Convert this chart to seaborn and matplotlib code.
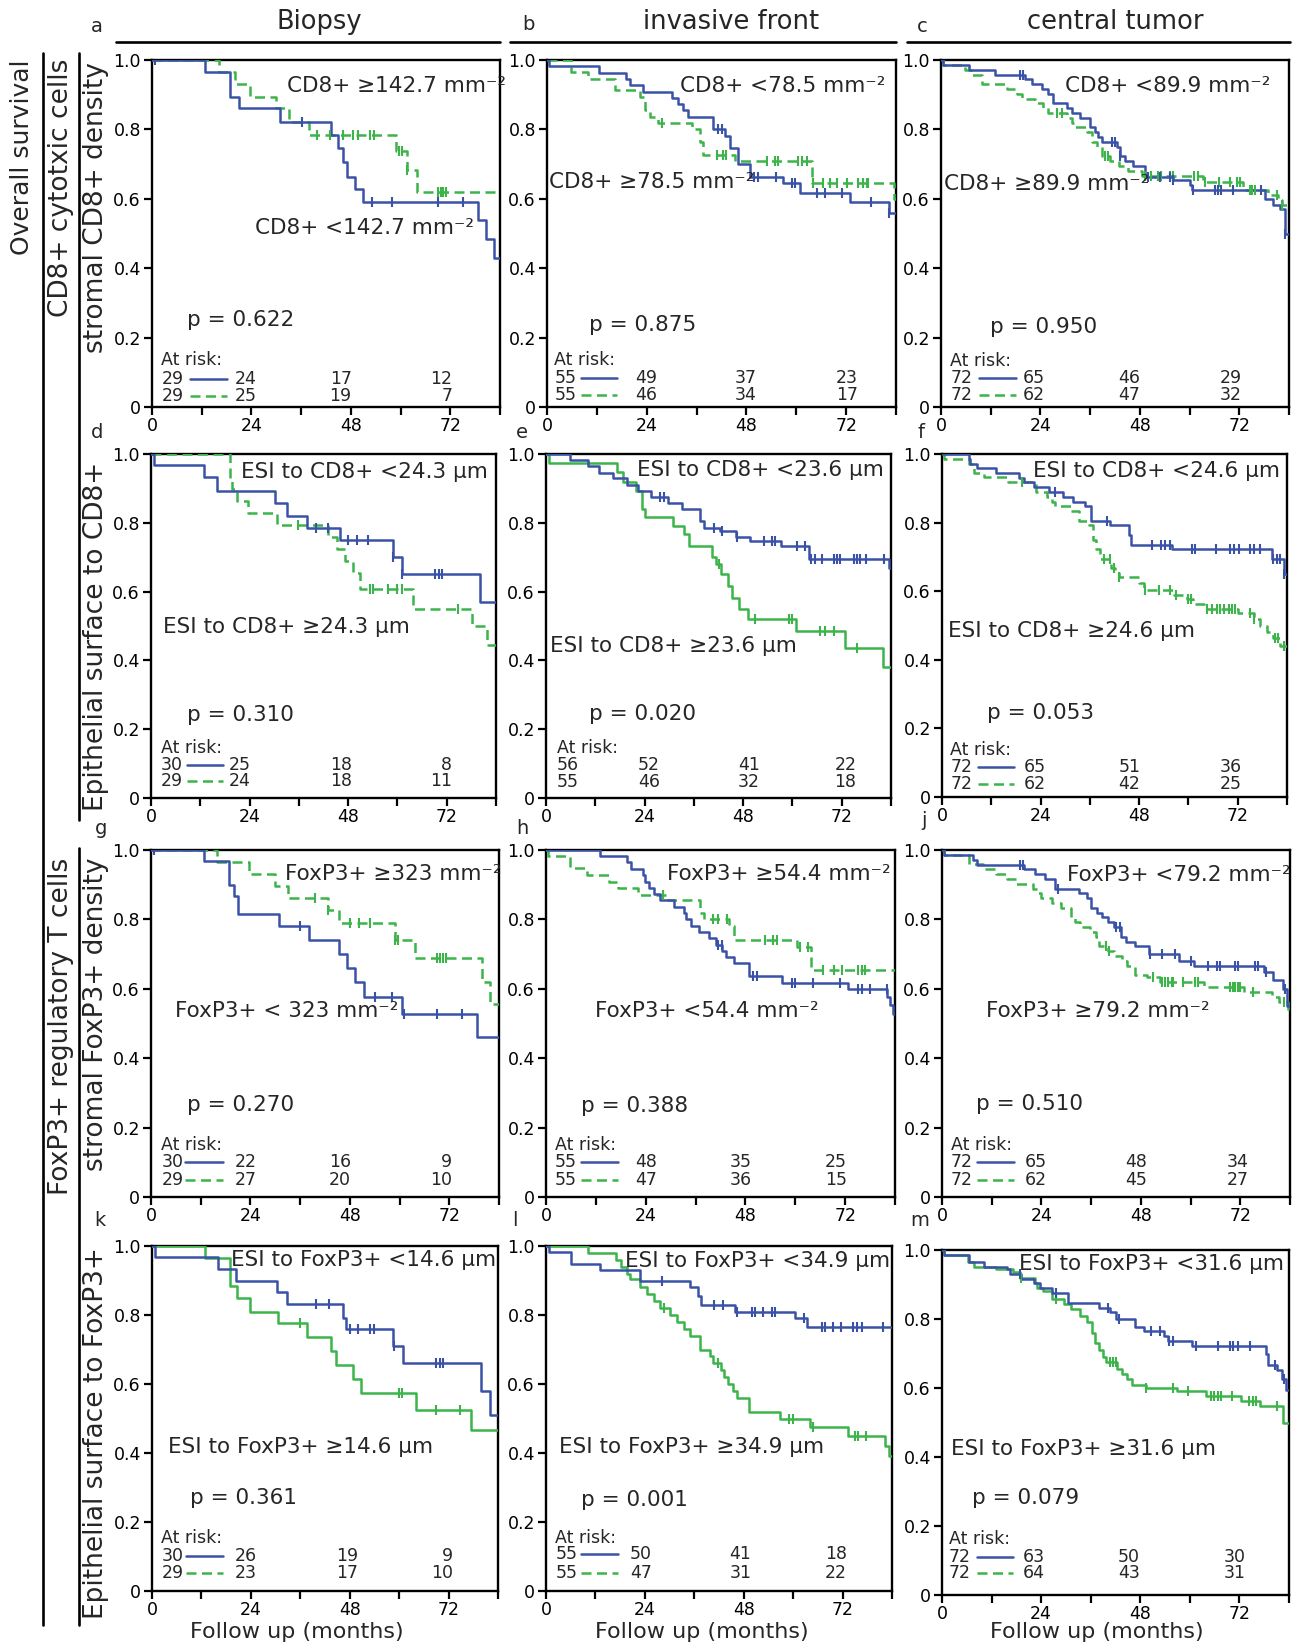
import numpy as np
import pandas as pd
import matplotlib
matplotlib.use("Agg")
import matplotlib.pyplot as plt
from matplotlib.lines import Line2D
import seaborn as sns

sns.set_theme(style="ticks")
plt.rcParams['font.family'] = ['DejaVu Sans']
plt.rcParams['mathtext.fontset'] = 'dejavusans'

BLUE = "#3a52a6"
GREEN = "#3cb44a"
W, H = 1297, 1647
END = 84

# ---------------- data: step times (months), survival after step, censor times ----------------
A_B_T = [12.9, 18.9, 20.9, 30.9, 43.1, 44.9, 46.0, 47.0, 49.0, 51.0, 78.6, 80.6, 82.6]
A_B_S = [0.966, 0.894, 0.861, 0.822, 0.784, 0.745, 0.707, 0.663, 0.627, 0.591, 0.538, 0.484, 0.428]
A_B_C = [0.8, 36.2, 53, 58, 69, 75]
A_G_T = [16.1, 20.1, 23.7, 30.0, 33.0, 37.8, 59.0, 61.5, 63.9]
A_G_S = [0.966, 0.930, 0.894, 0.861, 0.822, 0.784, 0.737, 0.683, 0.620]
A_G_C = [39.8, 43, 46.2, 48.6, 49.8, 52.7, 53.5, 59.5, 60.3, 61.5, 69, 69.8, 70.3, 71]

B_B_T = [0.6, 12.6, 19.0, 19.9, 23.1, 30.2, 31.5, 32.7, 33.9, 40.0, 42.8, 44.0, 46.0, 48.8, 56.9, 60.9, 73.0, 82.3]
B_B_S = [0.982, 0.963, 0.945, 0.927, 0.909, 0.891, 0.873, 0.855, 0.836, 0.800, 0.782, 0.745, 0.700, 0.664, 0.645, 0.618, 0.591, 0.560]
B_B_C = [41.2, 42.0, 49.9, 50.7, 55.0, 58.9, 59.7, 64.9, 66.9, 71.0, 78.0, 82.3]
B_G_T = [5.8, 9.9, 16.3, 22.3, 23.5, 24.8, 26.6, 34.8, 36.8, 37.6, 45.2, 63.7, 83.5]
B_G_S = [0.964, 0.945, 0.914, 0.894, 0.855, 0.836, 0.818, 0.800, 0.764, 0.727, 0.709, 0.645, 0.600]
B_G_C = [27.7, 40.8, 42.4, 43.2, 52.9, 54.9, 55.7, 60.5, 61.3, 62.5, 64.1, 66.5, 68.1, 69.7, 72.2, 74.9, 76.1, 76.9, 77.3]

C_B_T = [0.6, 6.7, 13.1, 20.3, 21.9, 24.3, 25.9, 27.1, 30.4, 31.6, 33.6, 36.0, 37.2, 38.0, 38.8, 42.4, 43.2, 44.4, 46.4, 49.2, 56.0, 60.0, 60.5, 78.1, 80.2, 81.8, 83.0]
C_B_S = [0.986, 0.972, 0.958, 0.944, 0.930, 0.917, 0.903, 0.875, 0.861, 0.847, 0.833, 0.806, 0.792, 0.778, 0.764, 0.750, 0.722, 0.708, 0.694, 0.664, 0.653, 0.639, 0.625, 0.600, 0.583, 0.570, 0.500]
C_B_C = [19.1, 19.9, 41.2, 42.0, 43.2, 50.0, 52.9, 55.2, 56.0, 60.9, 66.1, 66.9, 67.7, 70.5, 77.3, 83.0]
C_G_T = [0.6, 5.9, 7.5, 10.0, 15.9, 18.3, 19.5, 22.7, 24.7, 25.9, 30.4, 31.6, 32.4, 35.2, 36.4, 37.6, 38.8, 40.8, 43.0, 45.2, 48.5, 63.3, 72.9, 79.0, 81.4, 82.2]
C_G_S = [0.986, 0.972, 0.958, 0.930, 0.917, 0.903, 0.889, 0.875, 0.861, 0.847, 0.833, 0.819, 0.806, 0.792, 0.764, 0.750, 0.722, 0.708, 0.694, 0.681, 0.667, 0.647, 0.625, 0.611, 0.597, 0.583]
C_G_C = [27.9, 29.2, 39.6, 40.4, 49.2, 50.8, 52.4, 53.2, 55.2, 56.0, 61.0, 62.0, 63.7, 67.0, 69.8, 71.4, 72.2, 74.5, 75.0, 75.8, 81.0, 82.2]

D_B_T = [0.8, 12.9, 16.0, 30.2, 33.0, 38.1, 46.0, 59.0, 61.0, 80.1]
D_B_S = [0.967, 0.933, 0.893, 0.857, 0.821, 0.786, 0.750, 0.700, 0.650, 0.570]
D_B_C = [40.2, 43.0, 48.0, 50.1, 52.9, 59.0, 61.0, 69.2, 70.0, 70.8]
D_G_T = [19.2, 19.8, 20.9, 23.7, 30.6, 43.2, 45.2, 47.2, 49.3, 50.9, 63.9, 78.1, 81.7]
D_G_S = [0.931, 0.897, 0.862, 0.828, 0.793, 0.759, 0.724, 0.690, 0.655, 0.607, 0.550, 0.500, 0.446]
D_G_C = [35.9, 53.3, 54.1, 57.8, 59.8, 61.0, 74.8]

E_B_T = [5.9, 10.3, 13.0, 16.2, 19.6, 22.5, 25.5, 29.7, 33.0, 37.4, 38.5, 42.3, 46.2, 49.6, 57.1, 64.1, 83.4]
E_B_S = [0.982, 0.964, 0.946, 0.929, 0.911, 0.893, 0.875, 0.857, 0.839, 0.804, 0.786, 0.775, 0.759, 0.748, 0.732, 0.696, 0.670]
E_B_C = [27.8, 28.7, 40.8, 42.8, 46.4, 53.0, 55.0, 55.8, 61.1, 63.1, 64.4, 65.6, 67.2, 70.0, 70.9, 71.7, 74.9, 75.7, 76.5, 77.8, 82.2]
E_G_T = [0.7, 17.4, 18.7, 21.9, 23.3, 24.0, 30.8, 33.6, 34.9, 40.3, 41.4, 42.7, 44.4, 45.4, 46.9, 49.2, 60.9, 72.7, 82.0]
E_G_S = [0.974, 0.947, 0.918, 0.892, 0.839, 0.818, 0.790, 0.766, 0.733, 0.700, 0.680, 0.650, 0.617, 0.580, 0.550, 0.520, 0.485, 0.437, 0.380]
E_G_C = [42.0, 51.0, 59.1, 59.9, 66.8, 68.0, 70.0, 75.7]

F_B_T = [6.5, 6.9, 8.6, 13.2, 18.7, 19.9, 22.5, 26.0, 29.5, 32.0, 34.7, 36.3, 41.0, 45.5, 46.0, 56.0, 80.4, 83.3]
F_B_S = [0.986, 0.972, 0.958, 0.944, 0.931, 0.917, 0.903, 0.889, 0.875, 0.861, 0.847, 0.806, 0.792, 0.764, 0.736, 0.722, 0.694, 0.650]
F_B_C = [27.6, 40.2, 51.1, 53.2, 54.4, 55.6, 60.9, 61.7, 66.6, 70.2, 71.0, 72.2, 75.1, 75.9, 77.5, 80.7, 81.5, 82.4, 83.3]
F_G_T = [0.4, 6.6, 7.9, 10.3, 16.0, 23.0, 25.5, 26.8, 27.6, 31.3, 33.4, 35.7, 36.7, 37.6, 38.5, 41.2, 42.0, 43.0, 48.0, 49.3, 56.5, 59.7, 61.1, 63.7, 72.0, 75.9, 77.5, 79.1, 80.7, 82.4]
F_G_S = [0.986, 0.972, 0.944, 0.934, 0.917, 0.889, 0.875, 0.861, 0.847, 0.833, 0.806, 0.792, 0.750, 0.722, 0.694, 0.667, 0.653, 0.640, 0.625, 0.603, 0.590, 0.576, 0.562, 0.548, 0.535, 0.520, 0.500, 0.480, 0.465, 0.440]
F_G_C = [19.4, 39.4, 41.0, 41.9, 43.0, 49.5, 52.8, 55.6, 57.0, 59.9, 60.7, 64.4, 65.7, 67.0, 67.8, 68.6, 69.8, 70.6, 71.4, 75.1, 75.9, 81.1, 81.9, 83.2]

G_B_T = [12.9, 18.9, 20.1, 21.1, 31.0, 38.1, 45.3, 47.3, 49.3, 51.3, 60.5, 78.6]
G_B_S = [0.967, 0.900, 0.867, 0.815, 0.780, 0.740, 0.700, 0.660, 0.620, 0.577, 0.527, 0.460]
G_B_C = [0.8, 36.0, 54.1, 58.1, 61.0, 69.0, 75.0]
G_G_T = [16.0, 23.7, 30.0, 33.0, 42.8, 45.4, 58.8, 63.8, 79.8, 81.8]
G_G_S = [0.966, 0.931, 0.897, 0.862, 0.828, 0.790, 0.742, 0.690, 0.620, 0.556]
G_G_C = [39.6, 42.8, 48.1, 50.1, 52.9, 58.8, 59.6, 69.0, 69.8, 70.5, 71.3]

H_B_T = [13.0, 19.4, 20.5, 23.3, 23.8, 24.7, 26.0, 27.4, 30.8, 33.2, 33.6, 35.0, 36.8, 39.3, 40.8, 42.4, 43.4, 45.3, 48.9, 56.8, 72.7, 82.1, 82.9, 83.6]
H_B_S = [0.982, 0.964, 0.945, 0.927, 0.909, 0.891, 0.873, 0.855, 0.836, 0.818, 0.800, 0.782, 0.764, 0.745, 0.727, 0.709, 0.691, 0.673, 0.636, 0.618, 0.600, 0.577, 0.553, 0.528]
H_B_C = [41.5, 42.3, 49.9, 50.7, 59.1, 59.9, 64.3, 70.7, 75.2, 76.0, 78.0, 82.0]
H_G_T = [0.5, 5.8, 9.9, 15.1, 17.4, 22.1, 29.4, 37.0, 38.0, 44.0, 45.2, 60.5, 63.8]
H_G_S = [0.982, 0.947, 0.928, 0.909, 0.890, 0.870, 0.856, 0.818, 0.800, 0.782, 0.741, 0.720, 0.654]
H_G_C = [28.1, 40.3, 41.5, 43.5, 52.7, 54.7, 55.5, 61.1, 63.1, 66.7, 69.2, 71.2, 75.2, 76.0, 76.8]

J_B_T = [0.6, 7.4, 8.4, 19.9, 22.5, 24.8, 27.3, 33.1, 34.9, 35.9, 37.4, 38.6, 40.0, 41.4, 43.3, 44.5, 46.6, 49.9, 57.2, 60.8, 77.7, 80.0, 82.4, 83.2]
J_B_S = [0.986, 0.972, 0.958, 0.944, 0.931, 0.917, 0.889, 0.875, 0.861, 0.833, 0.819, 0.806, 0.792, 0.778, 0.750, 0.736, 0.722, 0.700, 0.680, 0.667, 0.647, 0.625, 0.600, 0.550]
J_B_C = [18.8, 19.6, 28.0, 42.1, 42.9, 50.2, 53.0, 56.2, 60.2, 64.3, 66.3, 67.1, 70.7, 71.5, 75.5, 76.3, 78.2, 82.8]
J_G_T = [0.6, 6.4, 10.0, 13.1, 15.8, 17.9, 22.0, 23.0, 24.0, 26.6, 28.8, 31.2, 32.0, 33.3, 35.7, 37.1, 38.0, 40.1, 41.4, 43.4, 44.7, 46.5, 49.5, 52.5, 63.3, 73.0, 79.7, 81.4, 83.6]
J_G_S = [0.986, 0.960, 0.944, 0.931, 0.917, 0.903, 0.889, 0.875, 0.861, 0.847, 0.833, 0.806, 0.792, 0.778, 0.764, 0.750, 0.722, 0.708, 0.694, 0.681, 0.667, 0.639, 0.635, 0.620, 0.604, 0.590, 0.576, 0.561, 0.534]
J_G_C = [39.6, 40.4, 50.9, 53.0, 53.8, 54.6, 55.4, 55.8, 58.2, 61.0, 61.8, 69.5, 70.3, 70.7, 71.5, 71.9, 75.0, 82.5]

K_B_T = [0.8, 16.1, 20.4, 30.3, 32.8, 46.3, 47.1, 58.6, 61.0, 79.9, 82.0]
K_B_S = [0.967, 0.933, 0.899, 0.867, 0.833, 0.790, 0.760, 0.710, 0.660, 0.580, 0.510]
K_B_C = [39.9, 43.0, 48.0, 50.0, 53.0, 53.8, 58.8, 69.0, 69.8, 70.6]
K_G_T = [12.8, 19.0, 20.6, 23.9, 30.6, 37.7, 43.4, 44.7, 48.9, 50.7, 64.0, 77.5]
K_G_S = [0.965, 0.885, 0.850, 0.810, 0.777, 0.735, 0.695, 0.655, 0.615, 0.575, 0.525, 0.467]
K_G_C = [36.0, 59.9, 60.7, 69.0, 74.8]

L_B_T = [0.7, 6.1, 13.0, 22.9, 34.9, 37.0, 37.7, 46.0, 60.5, 63.3]
L_B_S = [0.982, 0.949, 0.930, 0.900, 0.880, 0.855, 0.830, 0.810, 0.790, 0.765]
L_B_C = [28.1, 40.9, 42.9, 46.3, 49.9, 50.7, 52.7, 54.8, 55.6, 62.6, 66.9, 67.7, 69.7, 71.7, 74.6, 75.4, 76.6, 81.8]
L_G_T = [10.2, 16.9, 18.3, 19.7, 20.5, 22.9, 24.5, 26.1, 27.6, 30.2, 31.8, 33.4, 34.9, 37.5, 39.8, 40.6, 42.5, 43.2, 44.1, 45.5, 46.3, 49.3, 56.8, 64.0, 73.2, 82.4, 83.2]
L_G_S = [0.980, 0.960, 0.940, 0.920, 0.905, 0.880, 0.860, 0.840, 0.820, 0.800, 0.780, 0.760, 0.740, 0.700, 0.680, 0.660, 0.640, 0.620, 0.600, 0.580, 0.560, 0.520, 0.500, 0.475, 0.450, 0.420, 0.390]
L_G_C = [28.6, 41.8, 59.1, 59.9, 64.8, 75.0, 75.8, 77.8]

M_B_T = [0.6, 6.5, 10.2, 15.7, 16.5, 19.2, 22.3, 23.7, 26.6, 30.5, 38.1, 40.7, 42.2, 46.8, 49.0, 53.8, 54.8, 60.5, 78.4, 79.0, 81.0, 82.3, 83.3]
M_B_S = [0.986, 0.966, 0.952, 0.945, 0.931, 0.917, 0.903, 0.889, 0.875, 0.847, 0.833, 0.820, 0.800, 0.778, 0.764, 0.750, 0.736, 0.722, 0.700, 0.667, 0.652, 0.625, 0.595]
M_B_C = [18.8, 27.7, 40.2, 42.8, 50.7, 52.7, 55.0, 55.8, 61.4, 66.8, 69.7, 70.5, 71.7, 74.5, 80.5, 82.9]
M_G_T = [0.6, 6.4, 7.8, 13.0, 17.1, 18.9, 22.4, 23.1, 24.5, 26.6, 29.5, 31.3, 33.4, 35.0, 36.2, 37.1, 38.0, 38.9, 39.8, 42.4, 43.5, 44.7, 46.0, 49.5, 56.8, 63.8, 72.4, 77.0, 82.6]
M_G_S = [0.986, 0.966, 0.952, 0.945, 0.935, 0.920, 0.905, 0.890, 0.880, 0.858, 0.844, 0.830, 0.810, 0.790, 0.760, 0.730, 0.710, 0.690, 0.675, 0.655, 0.640, 0.625, 0.610, 0.600, 0.590, 0.577, 0.563, 0.548, 0.500]
M_G_C = [19.1, 27.7, 40.6, 41.4, 42.2, 49.5, 55.9, 59.6, 65.1, 65.9, 66.7, 67.5, 70.3, 74.2, 75.4, 76.0, 81.2]

# at-risk numbers (blue row, green row) at 0, 24, 48, 72 months
RISK_A = ([29, 24, 17, 12], [29, 25, 19, 7])
RISK_B = ([55, 49, 37, 23], [55, 46, 34, 17])
RISK_C = ([72, 65, 46, 29], [72, 62, 47, 32])
RISK_D = ([30, 25, 18, 8], [29, 24, 18, 11])
RISK_E = ([56, 52, 41, 22], [55, 46, 32, 18])
RISK_F = ([72, 65, 51, 36], [72, 62, 42, 25])
RISK_G = ([30, 22, 16, 9], [29, 27, 20, 10])
RISK_H = ([55, 48, 35, 25], [55, 47, 36, 15])
RISK_J = ([72, 65, 48, 34], [72, 62, 45, 27])
RISK_K = ([30, 26, 19, 9], [29, 23, 17, 10])
RISK_L = ([55, 50, 41, 18], [55, 47, 31, 22])
RISK_M = ([72, 63, 50, 30], [72, 64, 43, 31])

P_VALUES = ["0.622", "0.875", "0.950", "0.310", "0.020", "0.053",
            "0.270", "0.388", "0.510", "0.361", "0.001", "0.079"]

MM2 = " mm⁻²"
TOP_LABELS = ["CD8+ ≥142.7" + MM2, "CD8+ <78.5" + MM2, "CD8+ <89.9" + MM2,
              "ESI to CD8+ <24.3 μm", "ESI to CD8+ <23.6 μm", "ESI to CD8+ <24.6 μm",
              "FoxP3+ ≥323" + MM2, "FoxP3+ ≥54.4" + MM2, "FoxP3+ <79.2" + MM2,
              "ESI to FoxP3+ <14.6 μm", "ESI to FoxP3+ <34.9 μm", "ESI to FoxP3+ <31.6 μm"]
MID_LABELS = ["CD8+ <142.7" + MM2, "CD8+ ≥78.5" + MM2, "CD8+ ≥89.9" + MM2,
              "ESI to CD8+ ≥24.3 μm", "ESI to CD8+ ≥23.6 μm", "ESI to CD8+ ≥24.6 μm",
              "FoxP3+ < 323" + MM2, "FoxP3+ <54.4" + MM2, "FoxP3+ ≥79.2" + MM2,
              "ESI to FoxP3+ ≥14.6 μm", "ESI to FoxP3+ ≥34.9 μm", "ESI to FoxP3+ ≥31.6 μm"]
LETTERS = ["a", "b", "c", "d", "e", "f", "g", "h", "j", "k", "l", "m"]
COLUMN_TITLES = ["Biopsy", "invasive front", "central tumor"]

# ---------------- layout (pixel / axes-fraction positions) ----------------
RECTS = [(152, 60, 500, 407), (547, 60, 896, 407), (941, 60, 1289, 407),
         (151, 454, 496, 798), (546, 454, 891, 798), (942, 454, 1287, 797),
         (151, 850, 499, 1197), (546, 850, 895, 1197), (942, 850, 1290, 1197),
         (152, 1246, 498, 1591), (546, 1246, 892, 1591), (942, 1250, 1289, 1595)]
SERIES = [(A_B_T, A_B_S, A_B_C, A_G_T, A_G_S, A_G_C), (B_B_T, B_B_S, B_B_C, B_G_T, B_G_S, B_G_C),
          (C_B_T, C_B_S, C_B_C, C_G_T, C_G_S, C_G_C), (D_B_T, D_B_S, D_B_C, D_G_T, D_G_S, D_G_C),
          (E_B_T, E_B_S, E_B_C, E_G_T, E_G_S, E_G_C), (F_B_T, F_B_S, F_B_C, F_G_T, F_G_S, F_G_C),
          (G_B_T, G_B_S, G_B_C, G_G_T, G_G_S, G_G_C), (H_B_T, H_B_S, H_B_C, H_G_T, H_G_S, H_G_C),
          (J_B_T, J_B_S, J_B_C, J_G_T, J_G_S, J_G_C), (K_B_T, K_B_S, K_B_C, K_G_T, K_G_S, K_G_C),
          (L_B_T, L_B_S, L_B_C, L_G_T, L_G_S, L_G_C), (M_B_T, M_B_S, M_B_C, M_G_T, M_G_S, M_G_C)]
RISKS = [RISK_A, RISK_B, RISK_C, RISK_D, RISK_E, RISK_F, RISK_G, RISK_H, RISK_J, RISK_K, RISK_L, RISK_M]
GREEN_DASHED = [True, True, True, True, False, True, True, True, True, False, False, False]
TOP_XY = [(0.388, 0.925), (0.380, 0.925), (0.357, 0.925), (0.261, 0.947), (0.264, 0.953), (0.264, 0.950),
          (0.385, 0.931), (0.346, 0.931), (0.360, 0.929), (0.229, 0.960), (0.229, 0.956), (0.222, 0.959)]
MID_XY = [(0.297, 0.516), (0.005, 0.647), (0.010, 0.642), (0.036, 0.497), (0.013, 0.441), (0.017, 0.485),
          (0.070, 0.535), (0.141, 0.537), (0.125, 0.536), (0.045, 0.418), (0.037, 0.417), (0.027, 0.423)]
P_XY = [(0.100, 0.250), (0.120, 0.237), (0.140, 0.230), (0.105, 0.242), (0.124, 0.245), (0.130, 0.245),
        (0.103, 0.266), (0.100, 0.261), (0.097, 0.268), (0.111, 0.271), (0.102, 0.264), (0.087, 0.280)]
RISK_POS = [(0.027, 0.135, 0.082, 0.032), (0.021, 0.136, 0.085, 0.034), (0.027, 0.134, 0.085, 0.034),
            (0.029, 0.145, 0.097, 0.048), (0.032, 0.145, 0.097, 0.046), (0.024, 0.138, 0.087, 0.037),
            (0.030, 0.151, 0.101, 0.050), (0.025, 0.151, 0.101, 0.050), (0.025, 0.151, 0.101, 0.050),
            (0.027, 0.153, 0.101, 0.051), (0.027, 0.155, 0.106, 0.053), (0.020, 0.161, 0.111, 0.063)]
SWATCH = [(0.110, 0.215), (0.096, 0.201), (0.110, 0.216), (0.105, 0.210), None, (0.103, 0.209),
          (0.099, 0.207), (0.101, 0.206), (0.101, 0.206), (0.097, 0.206), (0.102, 0.208), (0.101, 0.206)]
COLS = [(25.3, 48.2, 72.5), (26.5, 50.5, 74.9), (25.0, 48.0, 72.7), (24.3, 48.9, 73.2),
        (27.7, 52.0, 75.6), (25.4, 48.3, 73.0), (25.6, 48.3, 72.6), (26.7, 49.5, 72.4),
        (25.2, 49.5, 74.1), (25.5, 50.0, 73.0), (25.7, 49.9, 73.1), (24.9, 47.9, 73.5)]
LETTER_XY = [(97, 27), (528, 25), (922, 27), (97, 433), (522, 433), (921, 433),
             (101, 828), (522, 828), (924, 821), (100, 1220), (515, 1220), (920, 1220)]


def fx(px):
    return px / W


def fy(py):
    return 1 - py / H


def draw_curve(ax, times, surv, cens, color, dashed):
    t = np.r_[0.0, times, END]
    s = np.r_[1.0, surv, surv[-1]]
    df = pd.DataFrame({"t": t, "s": s})
    ls = (0, (4.0, 2.2)) if dashed else "-"
    sns.lineplot(data=df, x="t", y="s", ax=ax, estimator=None, sort=False,
                 drawstyle="steps-post", color=color, linewidth=1.8,
                 linestyle=ls, legend=False, zorder=3)
    cens = np.asarray(cens, float)
    idx = np.searchsorted(t, cens, side="right") - 1
    sns.scatterplot(x=cens, y=s[idx], ax=ax, marker="|", s=55, color=color,
                    linewidth=1.5, legend=False, zorder=4)


fig = plt.figure(figsize=(W / 100, H / 100), dpi=100)

for i in range(12):
    l, t, r, b = RECTS[i]
    ax = fig.add_axes([fx(l), fy(b), (r - l) / W, (b - t) / H])
    bt, bs, bc, gt, gs, gc = SERIES[i]
    draw_curve(ax, gt, gs, gc, GREEN, GREEN_DASHED[i])
    draw_curve(ax, bt, bs, bc, BLUE, False)
    ax.set_xlim(0, END)
    ax.set_ylim(0, 1.0)
    ax.set_xlabel("")
    ax.set_ylabel("")
    ax.set_xticks([0, 24, 48, 72])
    ax.set_xticklabels(["0", "24", "48", "72"])
    ax.set_xticks([12, 36, 60, 84], minor=True)
    ax.set_yticks([0, 0.2, 0.4, 0.6, 0.8, 1.0])
    ax.set_yticklabels(["0", "0.2", "0.4", "0.6", "0.8", "1.0"])
    ax.tick_params(axis="both", which="both", direction="out", length=6, width=1.6,
                   labelsize=12.5, color="black", labelcolor="black")
    ax.tick_params(axis="x", which="both", pad=1)
    ax.tick_params(axis="y", pad=2)
    for sp in ax.spines.values():
        sp.set_visible(True)
        sp.set_linewidth(1.7)
        sp.set_color("black")
    ax.set_facecolor("white")

    ax.text(*TOP_XY[i], TOP_LABELS[i], transform=ax.transAxes, fontsize=15.5,
            ha="left", va="center", zorder=5)
    ax.text(*MID_XY[i], MID_LABELS[i], transform=ax.transAxes, fontsize=15.5,
            ha="left", va="center", zorder=5)
    ax.text(*P_XY[i], "p = " + P_VALUES[i], transform=ax.transAxes, fontsize=15.5,
            ha="left", va="center")

    rx, ry0, ry1, ry2 = RISK_POS[i]
    ax.text(rx, ry0, "At risk:", transform=ax.transAxes, fontsize=12.5, ha="left", va="center")
    trans = ax.get_xaxis_transform()
    for row, yy in zip(RISKS[i], (ry1, ry2)):
        ax.text(rx, yy, str(row[0]), transform=ax.transAxes, fontsize=12.5,
                ha="left", va="center")
        for val, cx in zip(row[1:], COLS[i]):
            ax.text(cx, yy, str(val), transform=trans, fontsize=12.5,
                    ha="right", va="center")
    if SWATCH[i] is not None:
        x1, x2 = SWATCH[i]
        ax.add_line(Line2D([x1, x2], [ry1, ry1], transform=ax.transAxes, color=BLUE, lw=1.8))
        ax.add_line(Line2D([x1, x2], [ry2, ry2], transform=ax.transAxes, color=GREEN, lw=1.8,
                           linestyle=(0, (4.0, 2.2))))

    fig.text(fx(LETTER_XY[i][0]), fy(LETTER_XY[i][1]), LETTERS[i], fontsize=14,
             ha="center", va="center")

# column titles and rules
TITLE_X = [319, 731, 1115]
RULES = [(116, 500), (510, 896), (907, 1290)]
for title, tx, (r0, r1) in zip(COLUMN_TITLES, TITLE_X, RULES):
    fig.text(fx(tx), fy(22), title, fontsize=18.5, ha="center", va="center")
    fig.add_artist(Line2D([fx(r0), fx(r1)], [fy(42), fy(42)], color="black", lw=1.9))

# x-axis labels of bottom row
for cx in (297, 702, 1097):
    fig.text(fx(cx), fy(1632), "Follow up (months)", fontsize=16, ha="center", va="center")

# row labels
ROW_LABELS = [("Overall survival", 22, 157, 18),
              ("CD8+ cytotxic cells", 61, 188, 19),
              ("stromal CD8+ density", 96, 208, 19),
              ("Epithelial surface to CD8+", 96, 636, 19),
              ("FoxP3+ regulatory T cells", 61, 1026, 19),
              ("stromal FoxP3+ density", 96, 1014, 19),
              ("Epithelial surface to FoxP3+", 96, 1433, 19)]
for txt, px, py, fs in ROW_LABELS:
    fig.text(fx(px), fy(py), txt, rotation=90, fontsize=fs, ha="center", va="center")

for (x, y0, y1) in [(43, 53, 1625), (79, 53, 820), (79, 848, 1625)]:
    fig.add_artist(Line2D([fx(x), fx(x)], [fy(y0), fy(y1)], color="black", lw=1.9))

fig.savefig("out.png", dpi=100, facecolor="white")
